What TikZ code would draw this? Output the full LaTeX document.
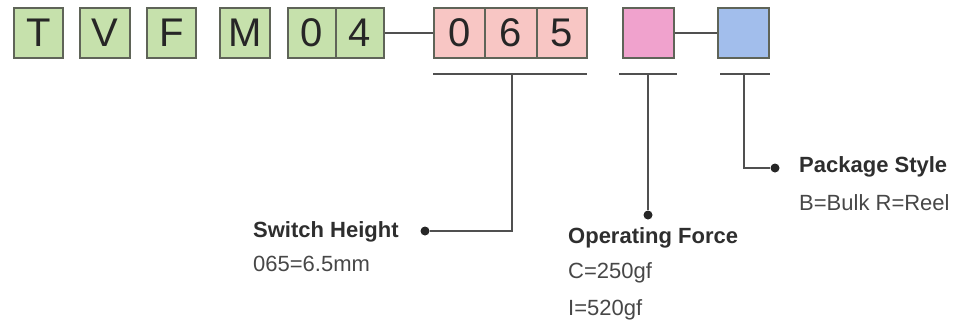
\documentclass[tikz,border=0pt]{standalone}
\usepackage{fontspec}
\setmainfont{Liberation Sans}
\definecolor{cellgreen}{RGB}{198,225,172}
\definecolor{cellrose}{RGB}{248,198,196}
\definecolor{cellpink}{RGB}{240,162,205}
\definecolor{cellblue}{RGB}{162,190,236}
\definecolor{rimgray}{RGB}{95,100,88}
\definecolor{wiregray}{RGB}{80,80,80}
\tikzset{
  cell/.style={draw=rimgray, line width=1.6pt, minimum height=50, inner sep=0pt,
    font=\fontsize{40}{42}\selectfont, text=black!85},
  wire/.style={wiregray, line width=1.6pt},
  dot/.style={circle, fill=black!85, minimum size=9, inner sep=0pt},
  title/.style={anchor=west, inner sep=0pt, font=\bfseries\fontsize{22}{24}\selectfont, text=black!82},
  value/.style={anchor=west, inner sep=0pt, font=\fontsize{22}{24}\selectfont, text=black!72}
}

\begin{document}
\begin{tikzpicture}[x=1pt,y=-1pt]
\useasboundingbox (0,0) rectangle (974,333);
% fixed prefix
\node[cell, fill=cellgreen, minimum width=49] (cT) at (38.5,33) {T};
\node[cell, fill=cellgreen, minimum width=50] (cV) at (105,33) {V};
\node[cell, fill=cellgreen, minimum width=49] (cF) at (171.5,33) {F};
\node[cell, fill=cellgreen, minimum width=50] (cM) at (245,33) {M};
\node[cell, fill=cellgreen, minimum width=48] (c0) at (312,33) {0};
\node[cell, fill=cellgreen, minimum width=48] (c4) at (360,33) {4};
% switch height
\node[cell, fill=cellrose, minimum width=51] (h0) at (459.5,33) {0};
\node[cell, fill=cellrose, minimum width=52] (h6) at (511,33) {6};
\node[cell, fill=cellrose, minimum width=50] (h5) at (562,33) {5};
% force and package
\node[cell, fill=cellpink, minimum width=51] (force) at (648.5,33) {};
\node[cell, fill=cellblue, minimum width=51] (pack) at (743.5,33) {};
\draw[wire] (c4.east) -- (h0.west);
\draw[wire] (force.east) -- (pack.west);

% brackets under the fields
\draw[wire] (433,74) -- (587,74);
\draw[wire] (619,74) -- (677,74);
\draw[wire] (720,74) -- (770,74);
\coordinate (hb) at (512,74);
\coordinate (fb) at (648,74);
\coordinate (pb) at (744,74);

% leaders
\node[dot] (dh) at (425,231) {};
\node[dot] (df) at (648,215) {};
\node[dot] (dp) at (775,168) {};
\draw[wire] (hb) |- (dh);
\draw[wire] (fb) -- (df);
\draw[wire] (pb) |- (dp);

% labels
\node[title] (th) at (253,232) {Switch Height};
\node[value] (vh) at (253,264) {065=6.5mm};
\node[title] (tf) at (568,238) {Operating Force};
\node[value] (vf1) at (568,273) {C=250gf};
\node[value] (vf2) at (568,310) {I=520gf};
\node[title] (tp) at (799,167) {Package Style};
\node[value] (vp) at (799,203) {B=Bulk R=Reel};
\end{tikzpicture}
\end{document}
